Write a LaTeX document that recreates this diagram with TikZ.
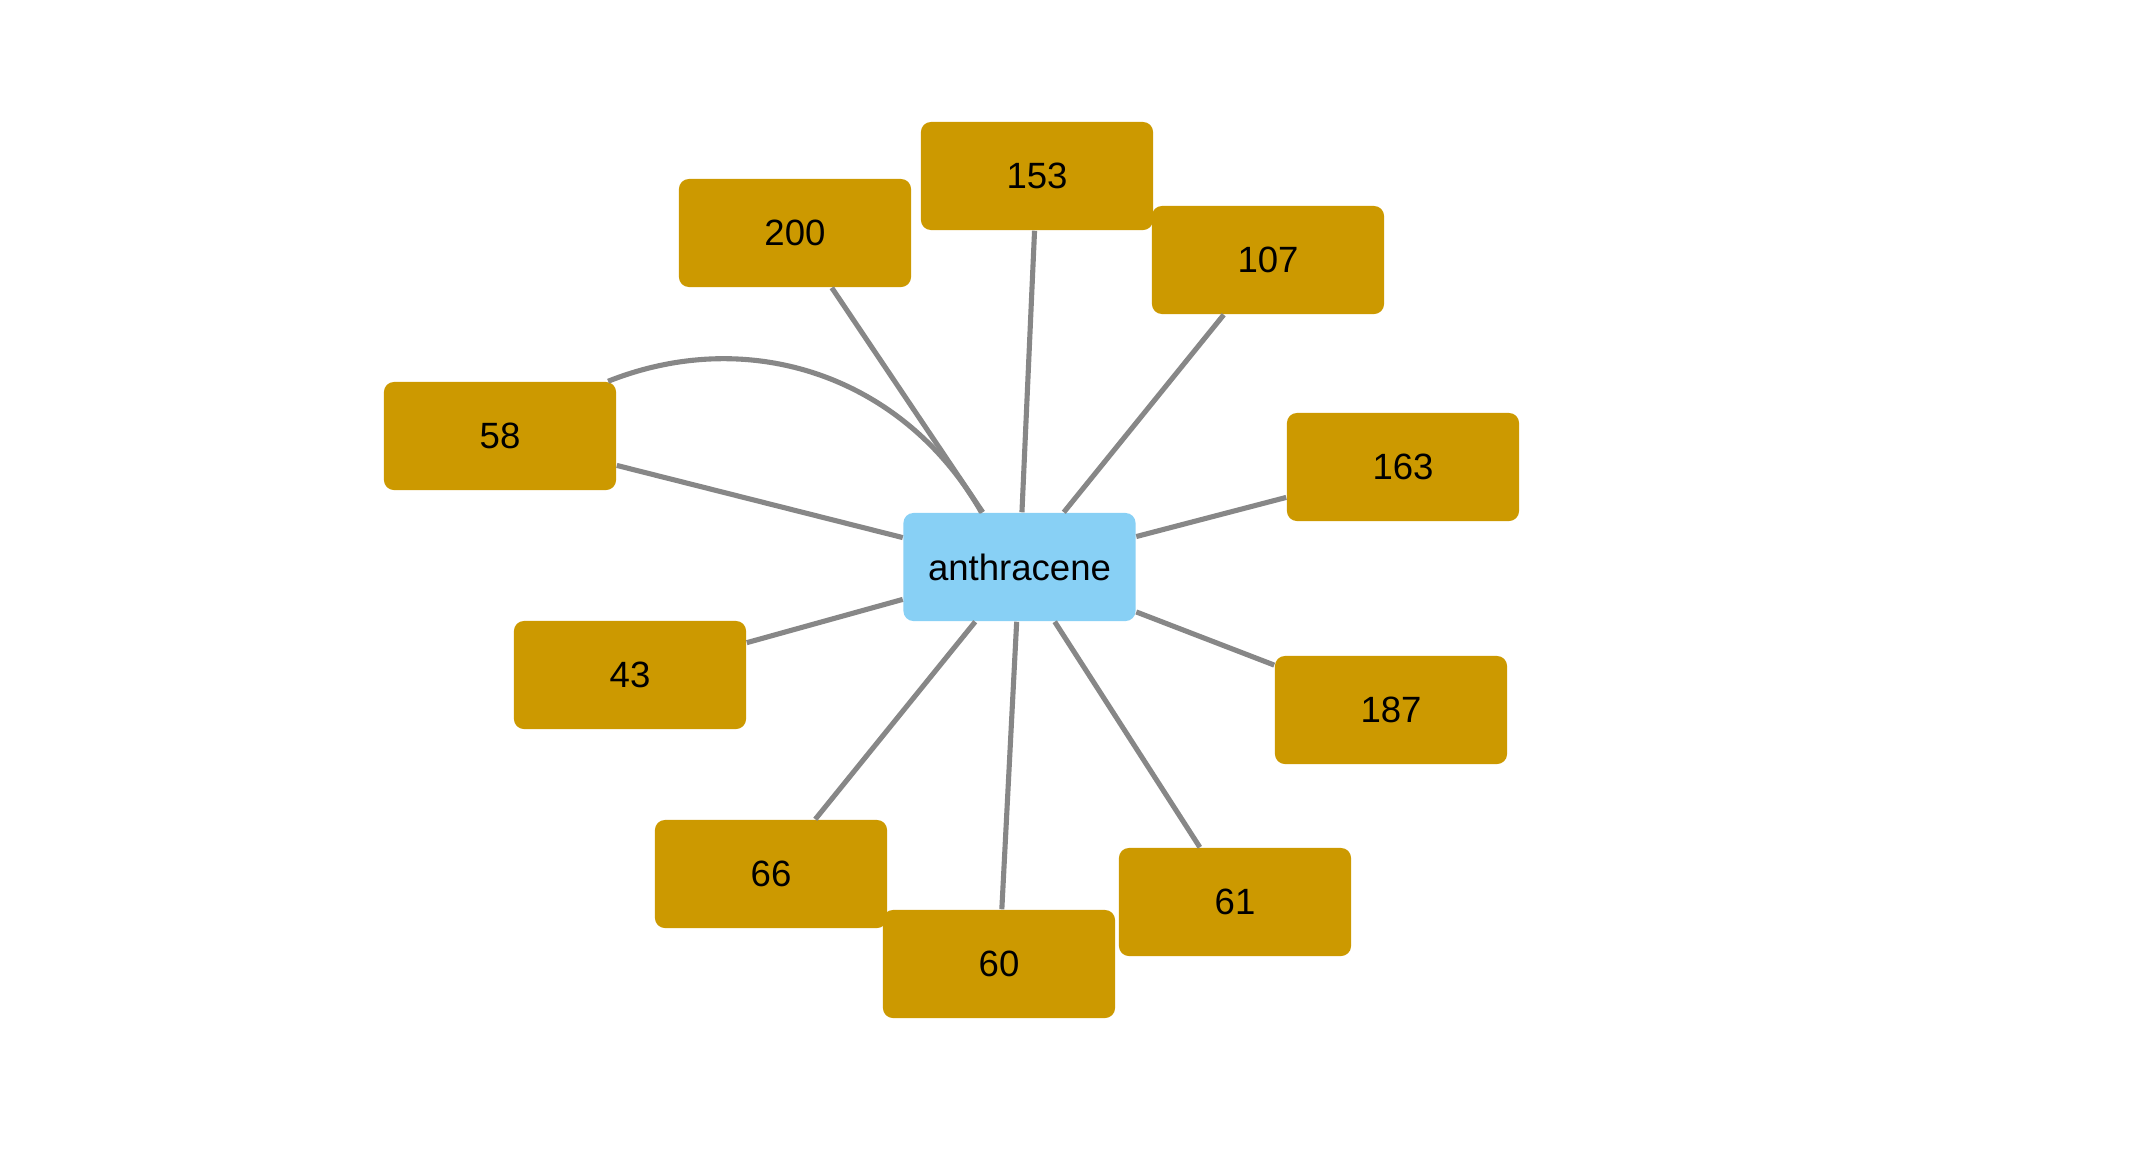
\documentclass[tikz,border=0pt]{standalone}
\usepackage{xcolor}
\usepackage{fontspec}
\setmainfont{Liberation Sans}
\usepackage{tikz}

\definecolor{goldbox}{HTML}{CC9900}
\definecolor{skybox}{HTML}{88D0F5}
\definecolor{edgegray}{HTML}{878787}

\begin{document}
\begin{tikzpicture}[x=0.01cm, y=-0.01cm,
  box/.style={rounded corners=0.1cm, minimum width=2.32cm, minimum height=1.08cm,
    inner sep=0pt, font=\fontsize{10.4}{12}\selectfont, text=black},
  leaf/.style={box, fill=goldbox},
  hub/.style={box, fill=skybox},
  link/.style={edgegray, line width=1.45pt}]
  \useasboundingbox (0,0) rectangle (2139,1163);

  % centre compound
  \node[hub] (anth) at (1019.5,567) {anthracene};

  % neighbours
  \node[leaf] (n153) at (1037,176) {153};
  \node[leaf] (n200) at (795,233) {200};
  \node[leaf] (n107) at (1268,260) {107};
  \node[leaf] (n58) at (500,436) {58};
  \node[leaf] (n163) at (1403,467) {163};
  \node[leaf] (n43) at (630,675) {43};
  \node[leaf] (n187) at (1391,710) {187};
  \node[leaf] (n66) at (771,874) {66};
  \node[leaf] (n61) at (1235,902) {61};
  \node[leaf] (n60) at (999,964) {60};

  % links
  \foreach \n in {n153,n200,n107,n58,n163,n43,n187,n66,n61,n60} {
    \draw[link] (anth) -- (\n);
  }
  \draw[link] (n58) to[bend left=41] (anth);
\end{tikzpicture}
\end{document}
